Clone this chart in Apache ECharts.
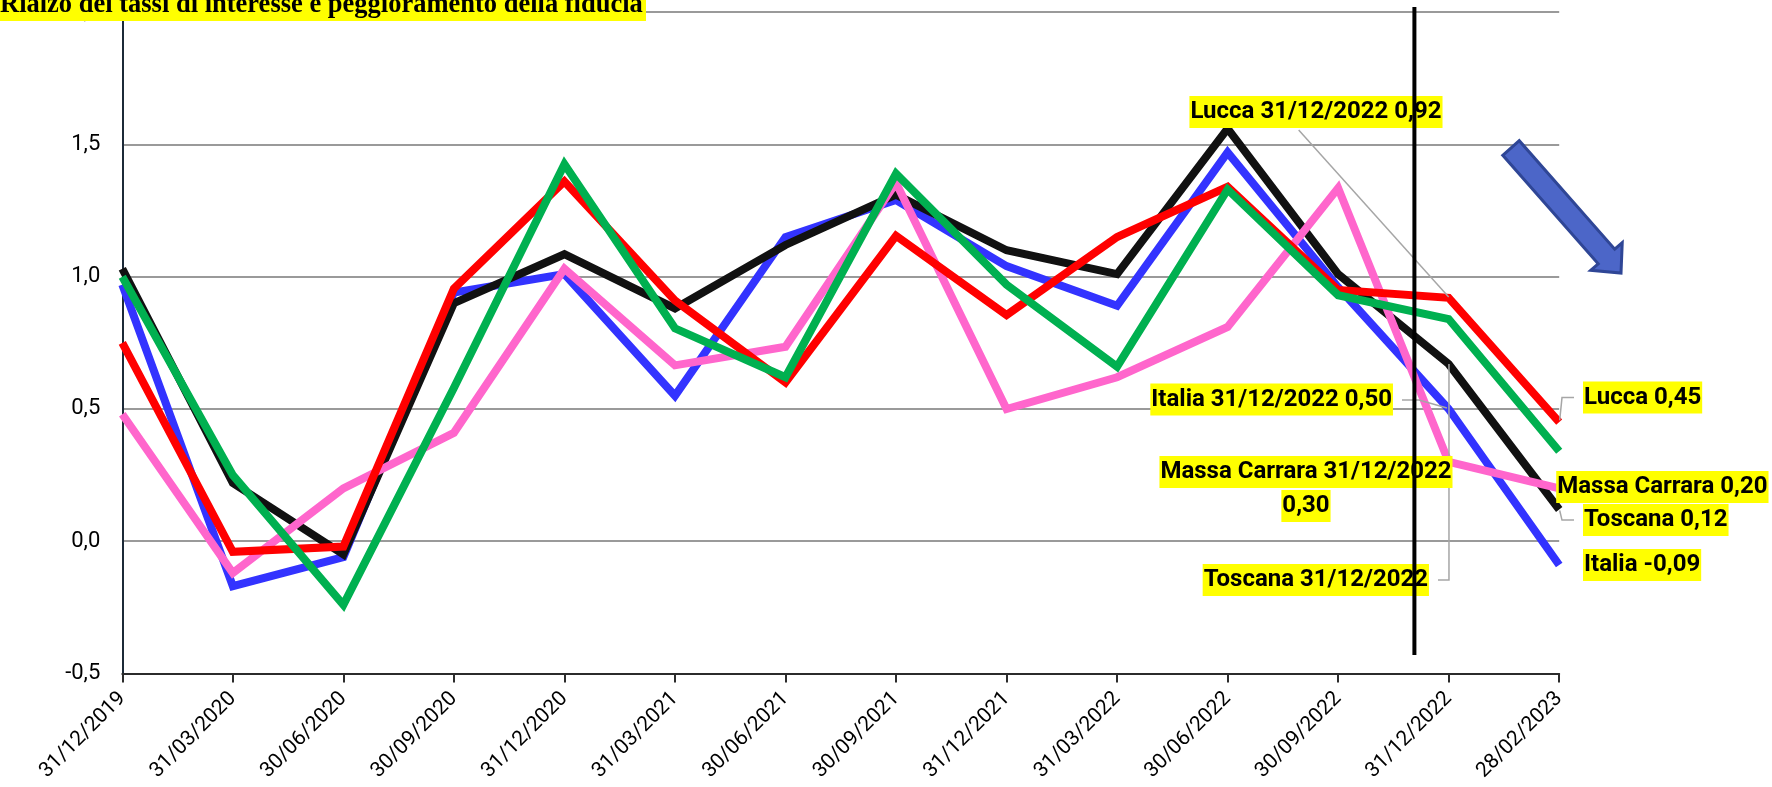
<!DOCTYPE html>
<html>
<head>
<meta charset="utf-8">
<script src="https://cdn.jsdelivr.net/npm/echarts@6/dist/echarts.min.js"></script>
<style>
html,body{margin:0;padding:0;background:#fff;}
#c{width:1772px;height:787px;}
</style>
</head>
<body>
<div id="c"></div>
<script>
// ---------- data ----------
const titleText = 'Rialzo dei tassi di interesse e peggioramento della fiducia';
const categories = ['31/12/2019','31/03/2020','30/06/2020','30/09/2020','31/12/2020','31/03/2021','30/06/2021','30/09/2021','31/12/2021','31/03/2022','30/06/2022','30/09/2022','31/12/2022','28/02/2023'];
const italia       = [0.97, -0.17, -0.06, 0.94, 1.01, 0.55, 1.15, 1.29, 1.04, 0.89, 1.47, 0.96, 0.50, -0.09];
const toscana      = [1.03, 0.22, -0.05, 0.90, 1.085, 0.88, 1.12, 1.31, 1.10, 1.01, 1.56, 1.01, 0.67, 0.12];
const massaCarrara = [0.48, -0.12, 0.20, 0.41, 1.03, 0.665, 0.735, 1.355, 0.50, 0.62, 0.81, 1.335, 0.30, 0.20];
const lucca        = [0.75, -0.04, -0.02, 0.955, 1.36, 0.91, 0.60, 1.155, 0.855, 1.15, 1.34, 0.95, 0.92, 0.45];
const serie5       = [1.00, 0.25, -0.24, 0.58, 1.425, 0.805, 0.62, 1.39, 0.97, 0.66, 1.33, 0.93, 0.84, 0.34];
const yMin = -0.5, yMax = 2.0, yStep = 0.5;
const dividerPos = 11.69;          // position of the vertical separator (in category units)
const dividerRange = [2.02, -0.43];

const fmt = v => v.toFixed(2).replace('.', ',');

const seriesDefs = [
  {name: 'Italia', data: italia, color: '#3333FF'},
  {name: 'Toscana', data: toscana, color: '#111111'},
  {name: 'Massa Carrara', data: massaCarrara, color: '#FF66CC'},
  {name: 'Lucca', data: lucca, color: '#FF0000'},
  {name: 'Serie 5', data: serie5, color: '#00B050'}
];

const chart = echarts.init(document.getElementById('c'), null, {renderer: 'canvas'});

const series = seriesDefs.map(s => ({
  type: 'line', name: s.name, data: s.data, symbol: 'none', silent: true,
  lineStyle: {color: s.color, width: 8, join: 'miter'},
  itemStyle: {color: s.color}, z: 2
}));
series.push({
  type: 'line', name: 'divider', xAxisIndex: 1, yAxisIndex: 0, symbol: 'none', clip: false, silent: true,
  data: [[dividerPos, dividerRange[0]], [dividerPos, dividerRange[1]]],
  lineStyle: {color: '#000', width: 4}, z: 10
});

chart.setOption({
  animation: false,
  grid: {left: 122.3, right: 212.8, top: 12.2, bottom: 113.5, containLabel: false},
  xAxis: [{
    type: 'category', data: categories, boundaryGap: false,
    axisLine: {show: true, onZero: false, lineStyle: {color: '#2b2b2b', width: 2}},
    axisTick: {show: true, interval: 0, length: 9, lineStyle: {color: '#2b2b2b', width: 2}},
    axisLabel: {interval: 0, rotate: 45, margin: 22, fontFamily: 'Roboto', fontSize: 21, color: '#000'},
    splitLine: {show: false}
  }, {
    type: 'value', min: 0, max: categories.length - 1, show: false
  }],
  yAxis: {
    type: 'value', min: yMin, max: yMax, interval: yStep,
    axisLine: {show: true, onZero: false, lineStyle: {color: '#1c2a38', width: 2}},
    axisTick: {show: false},
    axisLabel: {margin: 22, fontFamily: 'Roboto', fontSize: 22, color: '#000',
      formatter: v => v.toFixed(1).replace('.', ',')},
    splitLine: {show: true, lineStyle: {color: '#9a9a9a', width: 2}}
  },
  series: series
});

// ---------- annotations (positions derived from the data through the axes) ----------
const px = (i, v) => chart.convertToPixel({xAxisIndex: 0, yAxisIndex: 0}, [i, v]);
const last = categories.length - 1, mark = 12;
const annots = [
  {data: lucca, i: mark, text: 'Lucca ' + categories[mark] + ' ' + fmt(lucca[mark]), dx: -132.7, dy: -186, align: 'center',
   leader: [[-150, -168], [0, -1]]},
  {data: italia, i: mark, text: 'Italia ' + categories[mark] + ' ' + fmt(italia[mark]), dx: -55.7, dy: -9.4, align: 'right',
   leader: [[-46.7, -9], [-29.7, -9], [-1.7, -1]]},
  {data: massaCarrara, i: mark, text: 'Massa Carrara ' + categories[mark], dx: -142.7, dy: 10, align: 'center'},
  {data: massaCarrara, i: mark, text: fmt(massaCarrara[mark]), dx: -142.7, dy: 44, align: 'center'},
  {data: toscana, i: mark, text: 'Toscana ' + categories[mark], dx: -19.7, dy: 216, align: 'right',
   leader: [[-10.7, 216], [0.3, 216], [0.3, 0]]},
  {data: lucca, i: last, text: 'Lucca ' + fmt(lucca[last]), dx: 23.8, dy: -24.6, align: 'left',
   leader: [[0.5, -2], [2.8, -24.6], [14.8, -24.6]]},
  {data: massaCarrara, i: last, text: 'Massa Carrara ' + fmt(massaCarrara[last]), dx: -3, dy: -1.3, align: 'left'},
  {data: toscana, i: last, text: 'Toscana ' + fmt(toscana[last]), dx: 23.8, dy: 10.6, align: 'left',
   leader: [[0.5, 1], [2.8, 10.6], [14.8, 10.6]]},
  {data: italia, i: last, text: 'Italia ' + fmt(italia[last]), dx: 23.8, dy: 0, align: 'left'}
];

const g = [];
annots.forEach(a => {
  const p = px(a.i, a.data[a.i]);
  if (a.leader) {
    g.push({type: 'polyline', silent: true, z: 4,
      shape: {points: a.leader.map(q => [p[0] + q[0], p[1] + q[1]])},
      style: {stroke: '#A6A6A6', lineWidth: 1.5, fill: null}});
  }
  g.push({type: 'text', silent: true, z: 5, x: p[0] + a.dx, y: p[1] + a.dy,
    style: {text: a.text, font: 'bold 24px Roboto', fill: '#000', backgroundColor: '#FFFF00',
      padding: [4, 1, 4, 1], align: a.align, verticalAlign: 'middle'}});
});

// decorative block arrow
const T = [1511, 148], P = [1621, 273];
const L = Math.hypot(P[0] - T[0], P[1] - T[1]);
const u = [(P[0] - T[0]) / L, (P[1] - T[1]) / L], n = [-u[1], u[0]];
const B = [P[0] - 22 * u[0], P[1] - 22 * u[1]];
const pt = (c, k) => [c[0] + k * n[0], c[1] + k * n[1]];
g.push({type: 'polygon', silent: true, z: 3,
  shape: {points: [pt(T, 11), pt(B, 11), pt(B, 21), P, pt(B, -21), pt(B, -11), pt(T, -11)]},
  style: {fill: '#4C66C8', stroke: '#2F4696', lineWidth: 3, lineJoin: 'miter'}});

// title
g.push({type: 'rect', silent: true, z: 100, shape: {x: 0, y: 0, width: 646, height: 21}, style: {fill: '#FFFF00'}});
g.push({type: 'text', silent: true, z: 101, x: 0, y: 5.6,
  style: {text: titleText, font: 'bold 26.5px "Liberation Serif"', fill: '#000', align: 'left', verticalAlign: 'middle'}});

chart.setOption({graphic: g});
</script>
</body>
</html>
